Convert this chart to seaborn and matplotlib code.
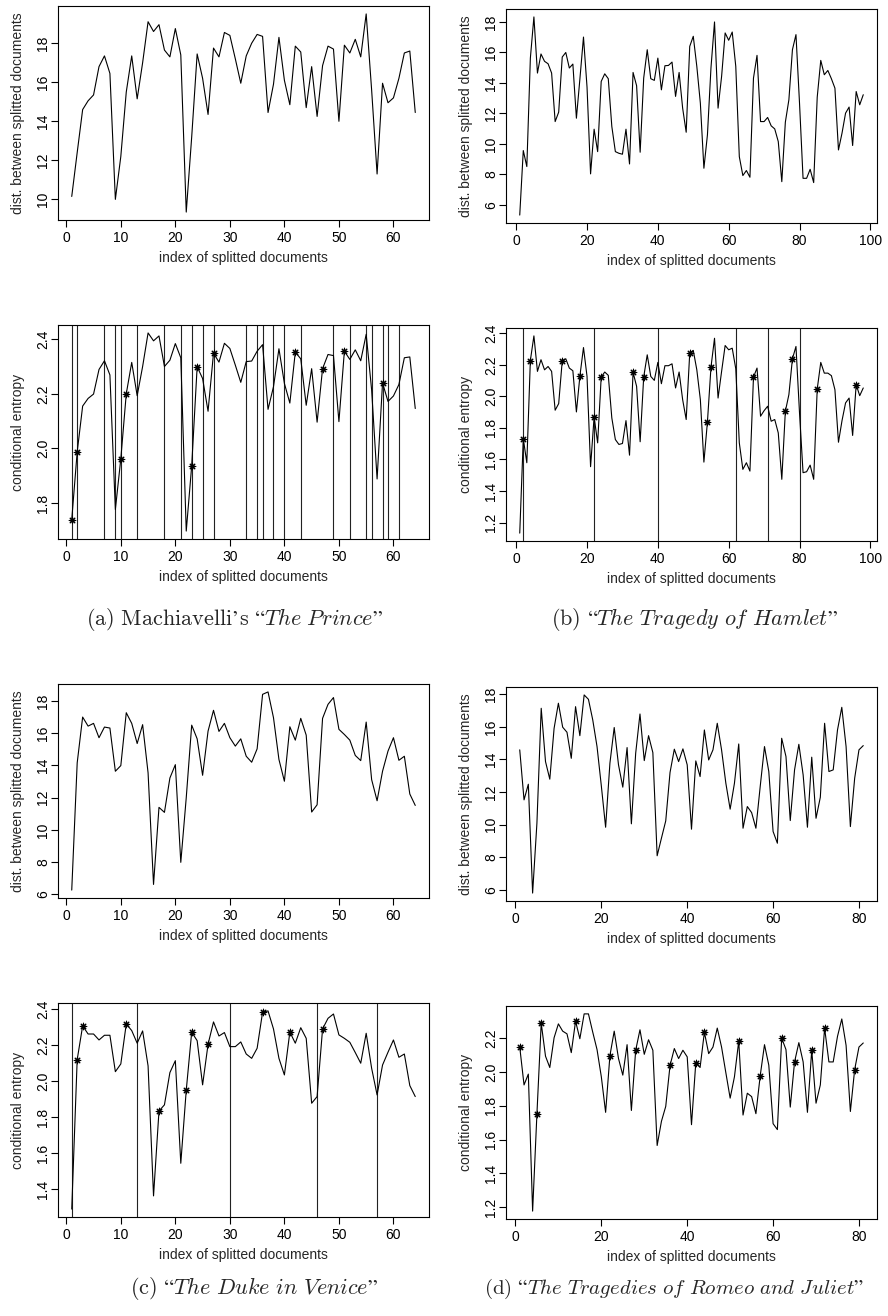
import numpy as np
import pandas as pd
import seaborn as sns
import matplotlib.pyplot as plt

# ---- data ----
prince_dist = [10.15, 12.4, 14.6, 15.05, 15.35, 16.8, 17.35, 16.45, 10.0, 12.2,
               15.5, 17.35, 15.15, 17.0, 19.1, 18.6, 18.95, 17.65, 17.3, 18.75,
               17.4, 9.35, 13.2, 17.45, 16.2, 14.35, 17.75, 17.3, 18.55, 18.4,
               17.2, 15.95, 17.35, 18.0, 18.45, 18.35, 14.45, 15.9, 18.3, 16.1,
               14.85, 17.85, 17.55, 14.7, 16.8, 14.25, 16.85, 17.85, 17.7, 14.0,
               17.9, 17.5, 18.2, 17.3, 19.5, 15.6, 11.3, 15.95, 14.95, 15.2,
               16.2, 17.5, 17.6, 14.45]
prince_ent = [1.739, 1.987, 2.155, 2.183, 2.199, 2.289, 2.321, 2.269, 1.776, 1.962,
              2.2, 2.315, 2.193, 2.30, 2.423, 2.394, 2.412, 2.30, 2.323, 2.384,
              2.332, 1.697, 1.936, 2.299, 2.256, 2.136, 2.349, 2.316, 2.385, 2.366,
              2.305, 2.242, 2.318, 2.32, 2.356, 2.38, 2.143, 2.226, 2.365, 2.238,
              2.166, 2.353, 2.328, 2.158, 2.292, 2.096, 2.292, 2.344, 2.34, 2.098,
              2.356, 2.326, 2.361, 2.321, 2.418, 2.214, 1.888, 2.24, 2.172, 2.192,
              2.234, 2.332, 2.335, 2.146]
prince_vlines = [1, 2, 7, 9, 10, 13, 18, 21, 23, 25, 27, 33, 35, 36, 38, 40, 43,
                 49, 52, 55, 56, 58, 59, 61]
prince_stars = [1, 2, 10, 11, 23, 24, 27, 42, 47, 51, 58]

hamlet_dist = [5.34, 9.57, 8.52, 15.63, 18.33, 14.65, 15.9, 15.42, 15.26, 14.65,
               11.47, 12.09, 15.7, 16.0, 14.98, 15.24, 11.69, 14.3, 17.01, 13.73,
               8.04, 10.97, 9.5, 14.1, 14.6, 14.28, 11.15, 9.5, 9.39, 9.33,
               10.97, 8.69, 14.69, 13.82, 9.46, 14.32, 16.18, 14.28, 14.17, 15.63,
               13.55, 15.13, 15.15, 15.37, 13.12, 14.69, 12.35, 10.77, 16.4, 17.06,
               15.09, 12.68, 8.41, 10.6, 15.0, 18.0, 12.35, 14.43, 17.28, 16.8,
               17.34, 15.09, 9.17, 7.93, 8.26, 7.82, 14.32, 15.81, 11.47, 11.47,
               11.74, 11.19, 10.99, 10.16, 7.53, 11.43, 12.9, 16.18, 17.17, 12.68,
               7.75, 7.75, 8.34, 7.47, 13.07, 15.48, 14.54, 14.82, 14.28, 13.66,
               9.61, 10.71, 12.02, 12.42, 9.9, 13.44, 12.57, 13.23]
hamlet_ent = [1.133, 1.731, 1.579, 2.227, 2.383, 2.158, 2.232, 2.168, 2.189, 2.158,
              1.912, 1.954, 2.225, 2.238, 2.179, 2.162, 1.901, 2.131, 2.309, 2.126,
              1.554, 1.869, 1.705, 2.122, 2.154, 2.133, 1.863, 1.726, 1.695, 1.701,
              1.846, 1.627, 2.152, 2.063, 1.712, 2.122, 2.263, 2.126, 2.101, 2.215,
              2.08, 2.194, 2.194, 2.206, 2.053, 2.154, 1.979, 1.853, 2.274, 2.291,
              2.168, 1.979, 1.583, 1.838, 2.185, 2.368, 1.989, 2.158, 2.322, 2.295,
              2.305, 2.175, 1.705, 1.537, 1.579, 1.526, 2.122, 2.179, 1.874, 1.909,
              1.937, 1.842, 1.853, 1.768, 1.474, 1.905, 2.011, 2.238, 2.316, 1.895,
              1.516, 1.522, 1.564, 1.474, 2.046, 2.215, 2.147, 2.147, 2.131, 2.042,
              1.709, 1.846, 1.958, 1.989, 1.752, 2.074, 2.004, 2.053]
hamlet_vlines = [2, 22, 40, 62, 71, 80]
hamlet_stars = [2, 4, 13, 18, 22, 24, 33, 36, 49, 54, 55, 67, 76, 78, 85, 96]

duke_dist = [6.27, 14.16, 17.0, 16.44, 16.61, 15.72, 16.38, 16.32, 13.64, 13.99,
             17.27, 16.61, 15.36, 16.53, 13.54, 6.62, 11.4, 11.09, 13.22, 14.05,
             7.99, 12.0, 16.5, 15.65, 13.39, 16.13, 17.42, 16.11, 16.61, 15.72,
             15.2, 15.65, 14.57, 14.2, 15.03, 18.41, 18.56, 16.96, 14.37, 13.02,
             16.4, 15.57, 16.92, 15.88, 11.11, 11.56, 16.92, 17.79, 18.21, 16.24,
             15.92, 15.57, 14.62, 14.3, 16.69, 13.12, 11.81, 13.64, 14.89, 15.72,
             14.32, 14.57, 12.23, 11.52]
duke_ent = [1.29, 2.119, 2.306, 2.261, 2.261, 2.228, 2.254, 2.254, 2.052, 2.095,
            2.317, 2.28, 2.21, 2.278, 2.084, 1.363, 1.834, 1.868, 2.047, 2.113,
            1.544, 1.949, 2.271, 2.224, 1.979, 2.204, 2.328, 2.25, 2.269, 2.191,
            2.191, 2.217, 2.15, 2.126, 2.182, 2.382, 2.389, 2.289, 2.126, 2.034,
            2.272, 2.21, 2.296, 2.237, 1.877, 1.914, 2.289, 2.348, 2.372, 2.256,
            2.237, 2.215, 2.158, 2.099, 2.265, 2.071, 1.923, 2.089, 2.16, 2.228,
            2.132, 2.15, 1.975, 1.914]
duke_vlines = [1, 13, 30, 46, 57]
duke_stars = [2, 3, 11, 17, 22, 23, 26, 36, 41, 47]

romeo_dist = [14.59, 11.52, 12.48, 5.8, 10.09, 17.14, 13.87, 12.79, 15.91, 17.45,
              15.98, 15.67, 14.07, 17.24, 15.46, 17.96, 17.69, 16.43, 14.79, 12.38,
              9.84, 13.77, 15.96, 13.67, 12.3, 14.73, 10.05, 14.38, 16.79, 13.93,
              15.46, 14.42, 8.09, 9.17, 10.23, 13.2, 14.63, 13.87, 14.65, 13.67,
              9.72, 13.91, 12.95, 15.81, 13.97, 14.59, 16.22, 14.59, 12.54, 10.95,
              12.54, 14.95, 9.78, 11.11, 10.74, 9.78, 12.34, 14.79, 13.26, 9.58,
              8.86, 15.3, 14.18, 10.25, 13.36, 14.93, 13.05, 9.84, 14.14, 10.39,
              11.68, 16.22, 13.26, 13.36, 15.81, 17.2, 14.79, 9.88, 12.85, 14.59,
              14.85]
romeo_ent = [2.147, 1.923, 1.987, 1.177, 1.751, 2.288, 2.093, 2.026, 2.202, 2.284,
             2.241, 2.225, 2.114, 2.3, 2.196, 2.343, 2.343, 2.235, 2.132, 1.971,
             1.761, 2.096, 2.241, 2.079, 1.981, 2.161, 1.772, 2.128, 2.249, 2.104,
             2.19, 2.128, 1.565, 1.708, 1.796, 2.038, 2.138, 2.079, 2.128, 2.089,
             1.688, 2.055, 2.026, 2.235, 2.108, 2.147, 2.259, 2.147, 1.995, 1.845,
             1.971, 2.182, 1.745, 1.874, 1.854, 1.753, 1.977, 2.161, 2.04, 1.694,
             1.659, 2.2, 2.132, 1.792, 2.059, 2.173, 2.059, 1.761, 2.128, 1.815,
             1.923, 2.259, 2.059, 2.059, 2.21, 2.313, 2.157, 1.766, 2.014, 2.147,
             2.171]
romeo_vlines = []
romeo_stars = [1, 5, 6, 14, 22, 28, 36, 42, 44, 52, 57, 62, 65, 69, 72, 79]

captions = [r"$\mathrm{(a)\ Machiavelli’s}\ \mathit{“The\ Prince”}$",
            r"$\mathrm{(b)}\ \mathit{“The\ Tragedy\ of\ Hamlet”}$",
            r"$\mathrm{(c)}\ \mathit{“The\ Duke\ in\ Venice”}$",
            r"$\mathrm{(d)}\ \mathit{“The\ Tragedies\ of\ Romeo\ and\ Juliet”}$"]

sns.set_style("ticks")
plt.rcParams['font.family'] = ['Liberation Sans', 'DejaVu Sans']
plt.rcParams['mathtext.fontset'] = 'cm'

W, H = 888, 1316
fig = plt.figure(figsize=(W / 100, H / 100), dpi=100)


def make_axes(left, top, right, bottom):
    return fig.add_axes([left / W, 1 - bottom / H, (right - left) / W, (bottom - top) / H])


def r_lim(v):
    # R's default 4% padding around the data range
    lo, hi = min(v), max(v)
    d = (hi - lo) * 0.04
    return lo - d, hi + d


def style(ax, x, y, xticks, yticks, ylabel):
    ax.set_xlim(r_lim(x))
    ax.set_ylim(r_lim(y))
    ax.set_xticks(xticks)
    ax.set_yticks(yticks)
    for s in ax.spines.values():
        s.set_visible(True)
        s.set_color("black")
        s.set_linewidth(0.8)
    ax.tick_params(direction="out", length=4.8, width=0.8, color="black",
                   labelsize=10, labelcolor="black")
    ax.tick_params(axis="x", pad=3)
    ax.tick_params(axis="y", pad=1, labelrotation=90)
    plt.setp(ax.get_yticklabels(), va="center")
    ax.set_xlabel("index of splitted documents", fontsize=10)
    ax.set_ylabel(ylabel, fontsize=10)
    ax.xaxis.set_label_coords(0.5, -38 / 214)
    ax.xaxis.label.set_va("center")
    ax.yaxis.set_label_coords(-40 / 371, 0.5)
    ax.yaxis.label.set_va("center")


def draw_dist(box, dist, xticks, yticks):
    ax = make_axes(*box)
    idx = np.arange(1, len(dist) + 1)
    df = pd.DataFrame({"idx": idx, "dist": dist})
    sns.lineplot(data=df, x="idx", y="dist", color="black", linewidth=0.8,
                 estimator=None, ax=ax)
    style(ax, idx, dist, xticks, yticks, "dist. between splitted documents")
    return ax


def draw_ent(box, ent, vlines, stars, xticks, yticks):
    ax = make_axes(*box)
    idx = np.arange(1, len(ent) + 1)
    df = pd.DataFrame({"idx": idx, "ent": ent})
    for v in vlines:
        ax.axvline(v, color="#222222", linewidth=0.8)
    sns.lineplot(data=df, x="idx", y="ent", color="black", linewidth=0.8,
                 estimator=None, ax=ax)
    st = df[df["idx"].isin(stars)]
    sns.scatterplot(data=st, x="idx", y="ent", marker=(8, 2, 0), color="black",
                    s=22, linewidth=0.8, ax=ax, zorder=3)
    style(ax, idx, ent, xticks, yticks, "conditional entropy")
    return ax


draw_dist((58, 6, 429, 220), prince_dist, range(0, 61, 10), range(10, 19, 2))
draw_ent((58, 325, 429, 539), prince_ent, prince_vlines, prince_stars,
         range(0, 61, 10), [1.8, 2.0, 2.2, 2.4])
draw_dist((506, 9, 877, 223), hamlet_dist, range(0, 101, 20), range(6, 19, 2))
draw_ent((506, 328, 877, 541), hamlet_ent, hamlet_vlines, hamlet_stars,
         range(0, 101, 20), [1.2, 1.4, 1.6, 1.8, 2.0, 2.2, 2.4])
draw_dist((58, 684, 429, 898), duke_dist, range(0, 61, 10), range(6, 19, 2))
draw_ent((58, 1003, 429, 1217), duke_ent, duke_vlines, duke_stars,
         range(0, 61, 10), [1.4, 1.6, 1.8, 2.0, 2.2, 2.4])
draw_dist((506, 687, 877, 901), romeo_dist, range(0, 81, 20), range(6, 19, 2))
draw_ent((506, 1006, 877, 1219), romeo_ent, romeo_vlines, romeo_stars,
         range(0, 81, 20), [1.2, 1.4, 1.6, 1.8, 2.0, 2.2])

fig.text(235 / W, 1 - 619 / H, captions[0], ha="center", va="center", fontsize=16)
fig.text(694 / W, 1 - 619 / H, captions[1], ha="center", va="center", fontsize=16)
fig.text(254 / W, 1 - 1289 / H, captions[2], ha="center", va="center", fontsize=16)
# (d) runs off the page in the original; keep it just inside here
fig.text(484 / W, 1 - 1289 / H, captions[3], ha="left", va="center", fontsize=15)

fig.savefig("out.png", dpi=100, facecolor="white")
